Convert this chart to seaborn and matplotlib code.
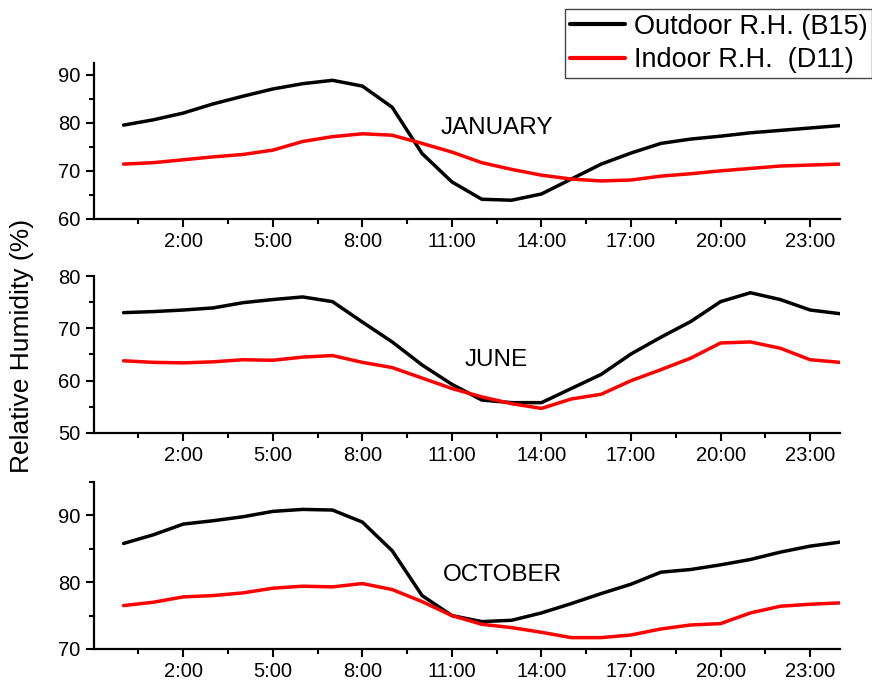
import numpy as np
import pandas as pd
import matplotlib
matplotlib.use("Agg")
import matplotlib.pyplot as plt
import seaborn as sns
from matplotlib.ticker import MultipleLocator, FixedLocator

hours = list(range(25))
tick_pos = [2, 5, 8, 11, 14, 17, 20, 23]
tick_labels = ["2:00", "5:00", "8:00", "11:00", "14:00", "17:00", "20:00", "23:00"]

jan_out = [79.5, 80.6, 82.0, 83.9, 85.5, 87.0, 88.1, 88.8, 87.6, 83.2, 73.6, 67.7, 64.1,
           63.9, 65.2, 68.3, 71.4, 73.7, 75.7, 76.6, 77.2, 77.9, 78.4, 78.9, 79.4]
jan_in = [71.4, 71.7, 72.3, 72.9, 73.4, 74.3, 76.1, 77.1, 77.7, 77.4, 75.7, 73.9, 71.7,
          70.3, 69.1, 68.3, 67.9, 68.1, 68.9, 69.4, 70.0, 70.5, 71.0, 71.2, 71.4]
jun_out = [73.0, 73.2, 73.5, 73.9, 74.9, 75.5, 76.0, 75.1, 71.2, 67.4, 63.0, 59.3, 56.3,
           55.8, 55.8, 58.5, 61.2, 65.1, 68.3, 71.3, 75.1, 76.8, 75.5, 73.5, 72.8]
jun_in = [63.8, 63.5, 63.4, 63.6, 64.0, 63.9, 64.5, 64.8, 63.5, 62.5, 60.5, 58.5, 56.9,
          55.6, 54.7, 56.5, 57.4, 60.0, 62.1, 64.3, 67.2, 67.4, 66.2, 64.0, 63.5]
oct_out = [85.8, 87.1, 88.7, 89.2, 89.8, 90.6, 90.9, 90.8, 89.0, 84.7, 78.0, 75.0, 74.1,
           74.3, 75.4, 76.8, 78.3, 79.7, 81.5, 81.9, 82.6, 83.4, 84.5, 85.4, 86.0]
oct_in = [76.5, 77.0, 77.8, 78.0, 78.4, 79.1, 79.4, 79.3, 79.8, 78.9, 77.1, 75.0, 73.7,
          73.2, 72.5, 71.7, 71.7, 72.1, 73.0, 73.6, 73.8, 75.4, 76.4, 76.7, 76.9]

months = ["JANUARY", "JUNE", "OCTOBER"]
series_names = ["Outdoor R.H. (B15)", "Indoor R.H.  (D11)"]
month_data = {
    "JANUARY": (jan_out, jan_in),
    "JUNE": (jun_out, jun_in),
    "OCTOBER": (oct_out, oct_in),
}
ylims = {"JANUARY": (60, 92.5), "JUNE": (50, 80), "OCTOBER": (70, 95)}
label_pos = {"JANUARY": (12.5, 79.0), "JUNE": (12.5, 64.0), "OCTOBER": (12.7, 81.1)}

rows = []
for m in months:
    for name, vals in zip(series_names, month_data[m]):
        for h, v in zip(hours, vals):
            rows.append({"month": m, "series": name, "hour": h, "rh": v})
df = pd.DataFrame(rows)

sns.set_style("ticks")
plt.rcParams["font.family"] = ["Liberation Sans", "DejaVu Sans"]
plt.rcParams["text.color"] = "black"
plt.rcParams["xtick.color"] = "black"
plt.rcParams["ytick.color"] = "black"
plt.rcParams["xtick.labelcolor"] = "black"
plt.rcParams["ytick.labelcolor"] = "black"

fig = plt.figure(figsize=(8.72, 6.88), dpi=100)
W, H = 872, 688
left = 93.7 / W
width = (840 - 93.7) / W
boxes = [(62.5, 219), (276, 433), (482, 649)]
palette = {series_names[0]: "black", series_names[1]: "#ff0000"}

axes = []
for m, (top, bot) in zip(months, boxes):
    ax = fig.add_axes([left, 1 - bot / H, width, (bot - top) / H])
    sub = df[df["month"] == m]
    sns.lineplot(data=sub, x="hour", y="rh", hue="series", palette=palette,
                 linewidth=2.5, ax=ax, legend=False)
    ax.set_xlim(-1, 24)
    ax.set_ylim(*ylims[m])
    ax.xaxis.set_major_locator(FixedLocator(tick_pos))
    ax.set_xticklabels(tick_labels)
    ax.xaxis.set_minor_locator(FixedLocator([0.5, 3.5, 6.5, 9.5, 12.5, 15.5, 18.5, 21.5]))
    ax.yaxis.set_major_locator(MultipleLocator(10))
    ax.yaxis.set_minor_locator(MultipleLocator(5))
    ax.tick_params(which="major", length=6, width=1.5, labelsize=14.5, direction="out",
                   color="black", labelcolor="black")
    ax.tick_params(which="minor", length=3.5, width=1.5, direction="out", color="black")
    for s in ["top", "right"]:
        ax.spines[s].set_visible(False)
    for s in ["left", "bottom"]:
        ax.spines[s].set_linewidth(1.6)
        ax.spines[s].set_color("black")
    ax.set_xlabel("")
    ax.set_ylabel("")
    lx, ly = label_pos[m]
    ax.text(lx, ly, m, ha="center", va="center", fontsize=17.5, color="black")
    axes.append(ax)

fig.text(22 / W, 1 - 346 / H, "Relative Humidity (%)", rotation=90,
         ha="center", va="center", fontsize=19, color="black")

handles = [plt.Line2D([], [], color=palette[n], linewidth=3) for n in series_names]
leg = fig.legend(handles, series_names, loc="upper right",
                 bbox_to_anchor=(1.0, 1 - 9 / H), frameon=True, fancybox=False,
                 fontsize=19.5, handlelength=2.05, handletextpad=0.3,
                 borderpad=0.18, labelspacing=0.28, borderaxespad=0, labelcolor="black")
leg.get_frame().set_edgecolor("#444444")
leg.get_frame().set_linewidth(1.0)
leg.get_frame().set_alpha(1)

fig.savefig("out.png", dpi=100)
